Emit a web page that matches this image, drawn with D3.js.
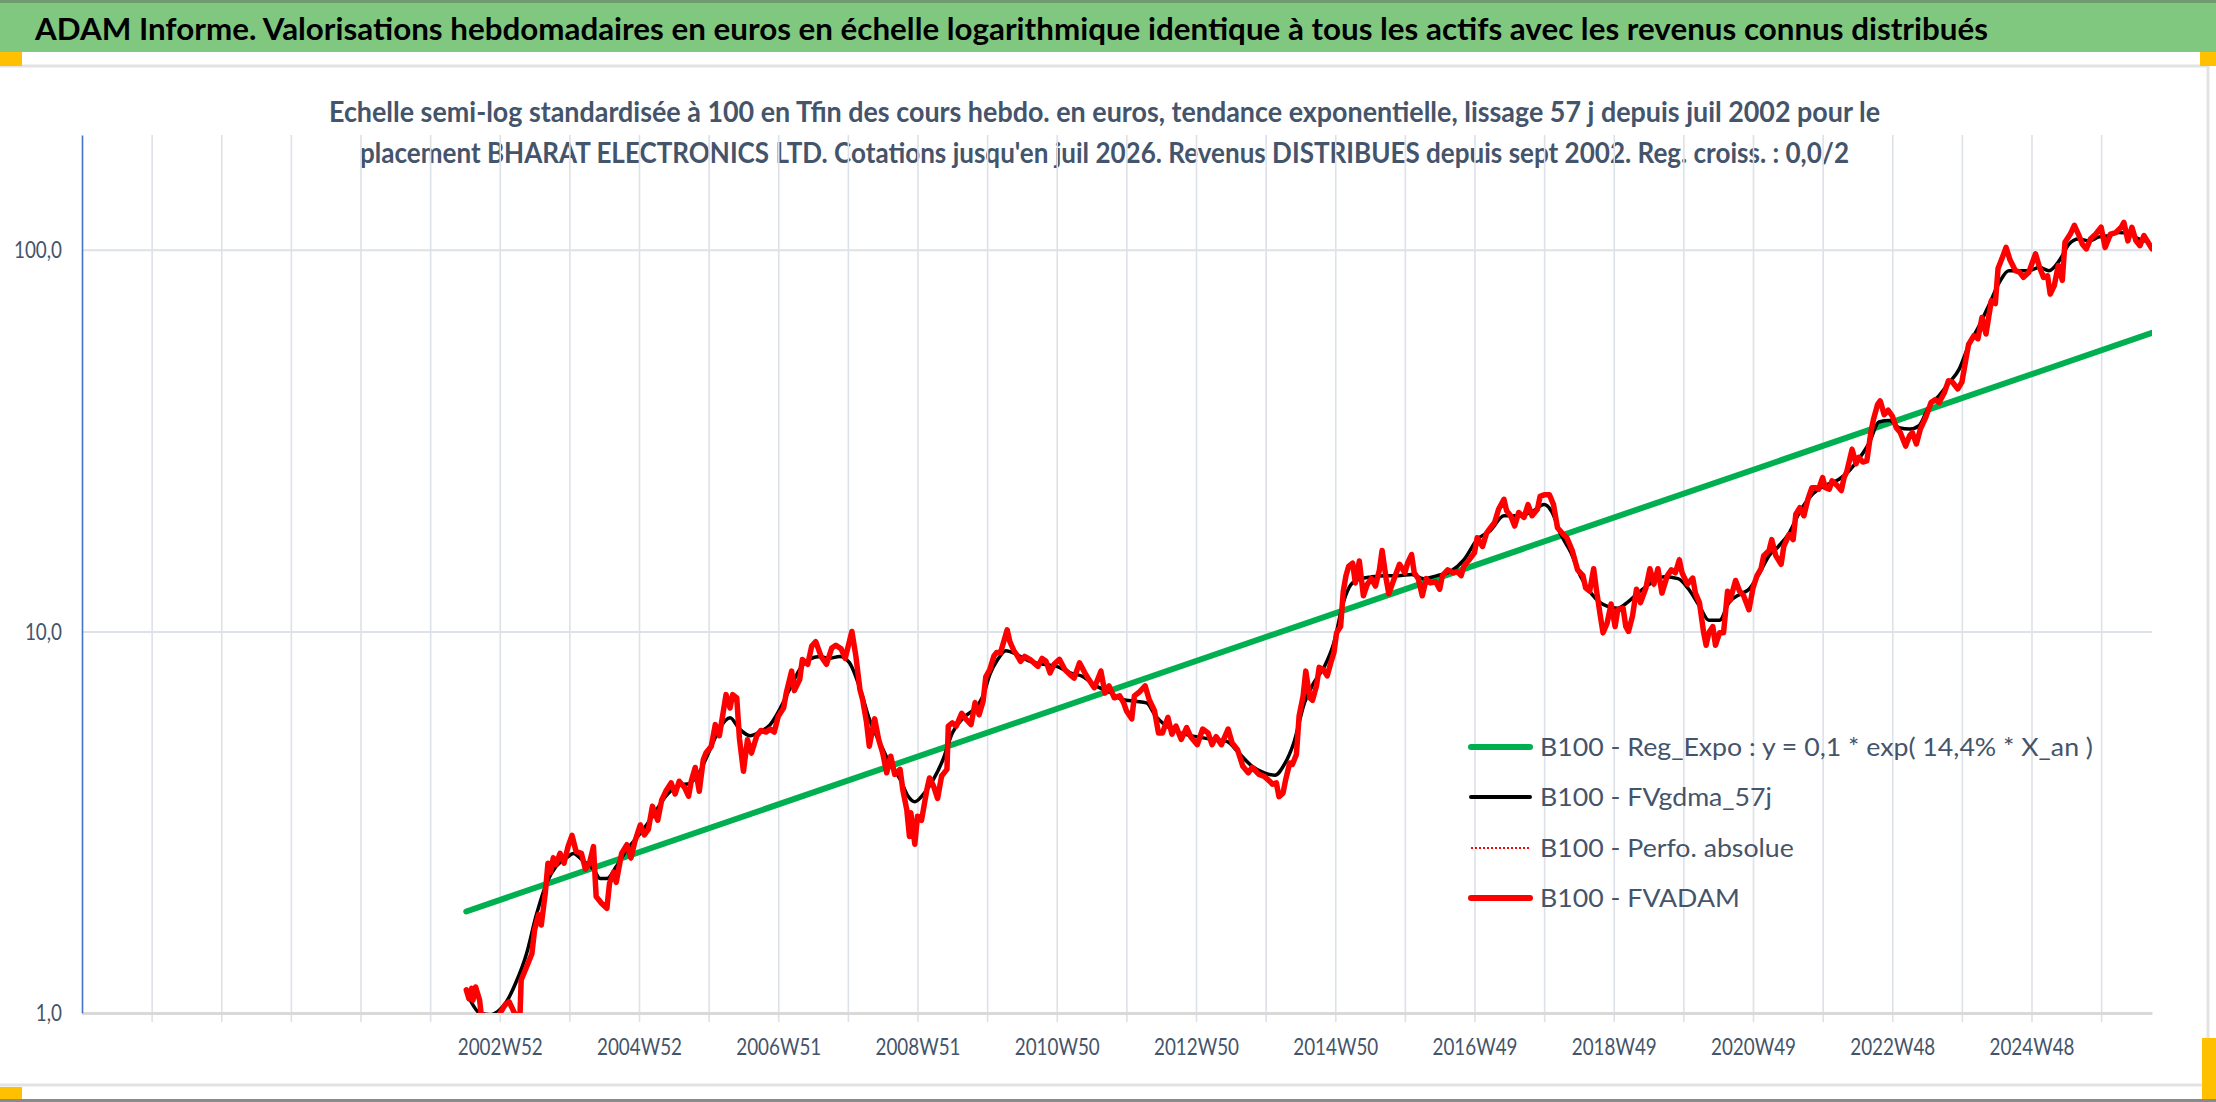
<!DOCTYPE html>
<html lang="fr">
<head>
<meta charset="utf-8">
<title>ADAM Informe - BHARAT ELECTRONICS LTD</title>
<script src="https://cdn.jsdelivr.net/npm/d3@7"></script>
<style>
  body { margin: 0; background: #fff; }
  svg text { font-family: Lato, "Open Sans", sans-serif; }
</style>
</head>
<body>
<div id="chart"></div>
<script>
// Values.
// x = week index on the category axis (one gridline every 52 weeks), y = B100 base value
const tickLabels = ["2002W52", "2004W52", "2006W51", "2008W51", "2010W50", "2012W50",
    "2014W50", "2016W49", "2018W49", "2020W49", "2022W48", "2024W48"];
const tickWeeks = [312, 416, 520, 624, 728, 832, 936, 1040, 1144, 1248, 1352, 1456];
const weekCount = 1546;
const yTicks = [1, 10, 100];

const legendLabels = [
    "B100 - Reg_Expo : y = 0,1 * exp( 14,4% *  X_an )",
    "B100 - FVgdma_57j",
    "B100 - Perfo. absolue",
    "B100 - FVADAM"
];

// exponential trend: straight on the log scale, start and end values
const regExpo = [[287, 1.845], [1546, 60.6]];

// smoothed 57-day line
const fvgdma57 = [
    [290,1.08],[297,1.0],[305,0.99],[312,1.02],[317,1.07],[324,1.20],[332,1.43],[339,1.79],[347,2.19],
    [354,2.42],[362,2.55],[367,2.62],[374,2.51],[382,2.38],[387,2.25],[392,2.25],[399,2.42],[407,2.68],
    [417,2.96],[426,3.27],[436,3.70],[446,3.95],[454,4.0],[461,4.27],[469,4.9],[476,5.55],[484,5.94],
    [491,5.55],[499,5.33],[506,5.45],[514,5.7],[521,6.24],[528,7.0],[536,7.95],[543,8.44],[551,8.6],
    [558,8.5],[566,8.6],[573,8.3],[581,7.1],[588,5.9],[596,5.1],[603,4.53],[611,4.1],[617,3.7],
    [622,3.58],[628,3.73],[636,4.1],[643,4.61],[650,5.42],[658,5.93],[665,6.2],[673,6.78],[678,7.7],
    [684,8.45],[690,8.9],[698,8.7],[708,8.35],[718,8.2],[728,8.1],[738,7.79],[748,7.6],[757,7.2],
    [767,6.95],[777,6.63],[787,6.56],[795,6.5],[802,5.99],[810,5.65],[820,5.42],[832,5.3],[845,5.21],
    [855,5.15],[864,4.8],[874,4.43],[883,4.26],[891,4.2],[898,4.48],[905,5.1],[913,6.5],[920,7.33],
    [928,8.1],[935,9.34],[942,11.9],[948,13.3],[955,13.75],[963,13.9],[973,14.0],[983,14.0],[993,14.1],
    [1002,13.75],[1012,14.0],[1022,14.35],[1032,15.4],[1042,17.4],[1052,18.4],[1062,20.1],[1072,20.1],
    [1082,20.5],[1092,21.5],[1098,20.5],[1104,18.1],[1112,16.1],[1119,14.0],[1127,12.6],[1134,11.9],
    [1139,11.65],[1147,11.5],[1154,11.9],[1162,12.6],[1172,13.4],[1182,13.9],[1192,13.75],[1200,12.9],
    [1208,11.65],[1215,10.7],[1223,10.7],[1230,11.9],[1238,12.5],[1245,12.9],[1253,14.25],[1260,15.8],
    [1267,16.7],[1275,18.1],[1282,20.3],[1290,22.4],[1297,23.6],[1305,24.4],[1312,25.0],[1320,26.4],
    [1327,28.3],[1335,31.3],[1342,35.4],[1350,35.7],[1357,34.2],[1365,33.9],[1372,34.6],[1379,38.6],
    [1387,41.5],[1394,44.6],[1402,48.7],[1409,56.0],[1417,63.3],[1424,71.4],[1432,82.2],[1439,88.2],
    [1447,88.2],[1454,88.2],[1462,90.0],[1469,88.2],[1477,94],[1484,103.5],[1491,106.8],[1499,105.6],
    [1506,108],[1514,109],[1521,111],[1529,110],[1536,106.8],[1544,104.7]
];

// weekly FVADAM valuation
const fvadam = [
    [287,1.15],[289,1.09],[291,1.16],[292,1.08],[294,1.17],[297,1.08],[298,1.00],[303,0.96],[310,0.97],
    [316,1.05],[319,1.07],[323,1.00],[327,0.96],[328,1.22],[332,1.32],[336,1.43],[338,1.65],[341,1.81],
    [343,1.70],[346,2.06],[348,2.47],[350,2.34],[352,2.55],[354,2.45],[357,2.62],[360,2.47],[363,2.73],
    [366,2.92],[369,2.65],[373,2.62],[376,2.38],[379,2.47],[382,2.73],[384,2.02],[388,1.94],[392,1.88],
    [394,2.19],[397,2.34],[399,2.20],[403,2.62],[407,2.76],[410,2.55],[413,2.82],[417,3.11],[420,2.93],
    [423,3.03],[426,3.48],[430,3.20],[433,3.62],[436,3.81],[440,4.01],[443,3.75],[446,4.05],[450,3.90],
    [453,3.70],[455,4.05],[458,4.40],[461,3.81],[464,4.61],[466,4.80],[470,5.00],[473,5.70],[476,5.33],
    [478,5.88],[481,6.83],[484,6.30],[486,6.83],[489,6.70],[491,5.25],[494,4.30],[497,5.20],[500,4.80],
    [504,5.33],[507,5.50],[511,5.45],[514,5.55],[517,5.45],[520,5.99],[524,6.30],[526,6.90],[530,7.87],
    [532,7.00],[536,7.48],[538,8.44],[542,8.20],[545,9.15],[548,9.40],[552,8.60],[556,8.20],[560,9.05],
    [563,9.20],[567,9.00],[570,8.50],[575,10.0],[578,8.6],[581,7.04],[583,6.63],[586,5.76],[588,5.0],
    [592,5.9],[595,5.21],[598,4.8],[601,4.26],[604,4.71],[607,4.22],[611,4.35],[613,3.85],[616,3.41],
    [618,2.9],[619,3.35],[622,2.77],[624,3.28],[627,3.2],[631,3.85],[633,4.13],[636,3.93],[639,3.65],
    [642,4.18],[646,4.35],[647,5.65],[650,5.76],[653,5.65],[657,6.1],[660,5.9],[664,5.7],[667,6.5],
    [670,6.05],[673,6.56],[675,7.6],[678,7.95],[681,8.61],[683,8.8],[686,8.8],[688,9.3],[691,10.1],
    [693,9.4],[696,8.9],[698,8.7],[701,8.35],[704,8.6],[708,8.45],[711,8.27],[714,8.1],[717,8.5],
    [720,8.35],[723,7.79],[726,8.2],[730,8.45],[734,7.95],[738,7.7],[741,7.55],[745,8.27],[749,7.79],
    [752,7.48],[756,7.12],[759,7.55],[761,7.87],[764,6.9],[767,7.2],[771,6.7],[775,6.78],[778,6.5],
    [780,6.2],[784,5.9],[786,6.78],[790,6.95],[794,7.2],[797,6.63],[801,6.2],[804,5.42],[807,5.42],
    [811,5.95],[814,5.38],[817,5.65],[821,5.21],[825,5.6],[828,5.3],[833,5.05],[837,5.55],[841,5.42],
    [844,5.05],[847,5.3],[851,5.05],[856,5.55],[859,5.1],[863,4.9],[867,4.43],[871,4.26],[874,4.4],
    [879,4.22],[883,4.17],[887,4.05],[889,3.98],[892,4.01],[894,3.69],[897,3.77],[899,4.09],[902,4.52],
    [904,4.48],[907,4.76],[909,6.0],[912,6.77],[914,7.87],[917,6.7],[919,6.6],[922,7.2],[924,8.05],
    [927,7.95],[930,7.65],[933,8.35],[935,8.8],[937,9.92],[940,10.3],[942,12.75],[944,14.0],[946,14.8],
    [949,15.1],[951,13.4],[954,15.3],[957,12.4],[960,13.3],[963,13.75],[966,13.15],[969,14.5],[971,16.3],
    [974,13.75],[976,12.55],[980,13.75],[984,15.0],[988,14.25],[990,15.1],[993,15.9],[995,14.25],
    [998,13.75],[1001,12.4],[1004,13.75],[1007,13.4],[1011,13.5],[1014,12.9],[1016,14.0],[1020,14.5],
    [1024,14.25],[1027,14.35],[1030,14.0],[1032,14.8],[1036,15.4],[1040,16.1],[1042,17.6],[1046,16.7],
    [1049,18.1],[1052,18.7],[1055,19.3],[1058,20.9],[1062,22.2],[1064,20.7],[1067,20.1],[1070,18.9],
    [1073,20.5],[1077,19.9],[1080,21.5],[1083,20.1],[1087,20.9],[1089,22.6],[1092,22.8],[1096,22.8],
    [1099,21.5],[1102,18.7],[1106,18.0],[1109,17.6],[1113,16.3],[1117,14.5],[1121,14.0],[1123,13.0],
    [1126,12.75],[1129,14.6],[1131,12.9],[1134,10.97],[1136,9.92],[1139,10.5],[1142,11.8],[1145,10.3],
    [1147,11.4],[1151,11.5],[1153,10.3],[1155,10.0],[1158,10.97],[1161,12.9],[1164,11.9],[1168,13.0],
    [1171,14.6],[1174,13.3],[1177,14.6],[1180,12.6],[1184,14.0],[1187,14.5],[1190,14.25],[1193,15.4],
    [1195,14.25],[1199,13.3],[1203,13.8],[1205,12.6],[1208,11.9],[1211,10.0],[1213,9.2],[1215,9.92],
    [1218,10.3],[1220,9.2],[1223,9.92],[1226,9.92],[1229,12.75],[1231,12.1],[1235,13.6],[1238,12.75],
    [1241,12.4],[1245,11.4],[1248,13.0],[1251,14.0],[1254,14.6],[1256,15.8],[1260,16.3],[1262,17.4],
    [1265,15.8],[1269,15.0],[1271,16.7],[1275,17.95],[1278,17.4],[1280,20.3],[1283,21.1],[1286,20.1],
    [1289,22.2],[1292,23.8],[1295,23.8],[1297,23.6],[1300,25.3],[1302,23.8],[1305,23.6],[1307,24.8],
    [1311,24.1],[1314,23.4],[1316,25.3],[1318,26.2],[1322,30.0],[1325,27.5],[1327,28.6],[1330,27.8],
    [1333,28.0],[1336,33.2],[1338,36.0],[1341,39.3],[1343,40.2],[1346,37.0],[1349,38.0],[1352,36.7],
    [1355,34.2],[1358,33.2],[1362,30.6],[1365,32.6],[1367,33.2],[1370,31.0],[1373,33.9],[1377,36.4],
    [1381,39.8],[1384,40.5],[1387,39.8],[1391,42.3],[1394,45.4],[1397,45.0],[1401,43.2],[1404,45.0],
    [1407,51.7],[1409,56.5],[1413,59.6],[1416,58.5],[1419,66.5],[1422,60.2],[1426,73.6],[1429,72.3],
    [1431,89.3],[1434,95],[1437,101.5],[1440,94],[1444,88.2],[1447,87.4],[1450,84.7],[1454,87.4],
    [1459,97.6],[1462,90.0],[1465,84.7],[1468,85.5],[1470,76.6],[1473,80.6],[1476,91.0],[1479,83.2],
    [1481,104.7],[1485,110],[1488,116],[1491,110],[1494,103.5],[1497,100.6],[1500,106.8],[1504,110],
    [1508,114.6],[1511,101.5],[1515,110],[1519,111],[1523,114.6],[1525,118],[1528,105.6],[1531,114.6],
    [1534,105.6],[1537,102.6],[1540,109],[1543,104.7],[1546,100.6]
];

// same series as FVADAM in the source sheet, drawn dotted underneath it
const perfoAbsolue = fvadam;

const width = 2216, height = 1102;
const plot = { left: 82, right: 2152, top: 135, bottom: 1013 };
const textColor = "#44546a";

const svg = d3.select("#chart")
    .append("svg")
    .attr("width", width)
    .attr("height", height);

// squeeze a text to a given width (the source uses a narrow Calibri-like face)
function fitWidth(sel, w) {
    sel.attr("textLength", w).attr("lengthAdjust", "spacingAndGlyphs");
}
function squeeze(sel, k) {
    sel.each(function () {
        const len = this.getComputedTextLength();
        d3.select(this).attr("textLength", len * k).attr("lengthAdjust", "spacingAndGlyphs");
    });
}

// ---- frame: green title band, borders, selection handles ----
svg.append("rect").attr("x", 0).attr("y", 0).attr("width", width).attr("height", 3).attr("fill", "#6f9a6f");
svg.append("rect").attr("x", 0).attr("y", 3).attr("width", width).attr("height", 49).attr("fill", "#80c880");
svg.append("line").attr("x1", 0).attr("x2", 2208).attr("y1", 66).attr("y2", 66)
    .attr("stroke", "#e3e3e3").attr("stroke-width", 3);
svg.append("line").attr("x1", 0).attr("x2", 2208).attr("y1", 1085).attr("y2", 1085)
    .attr("stroke", "#e3e3e3").attr("stroke-width", 3);
svg.append("line").attr("x1", 2208).attr("x2", 2208).attr("y1", 66).attr("y2", 1085)
    .attr("stroke", "#e3e3e3").attr("stroke-width", 3);
svg.append("rect").attr("x", 0).attr("y", 1099).attr("width", width).attr("height", 3).attr("fill", "#8a8a8a");
[[0, 52, 22, 14], [2200, 52, 16, 14], [0, 1087, 22, 12], [2202, 1038, 14, 61]].forEach(r => {
    svg.append("rect").attr("x", r[0]).attr("y", r[1]).attr("width", r[2]).attr("height", r[3])
        .attr("fill", "#ffc000");
});

svg.append("text")
    .attr("x", 35).attr("y", 40)
    .style("font-size", "30px").style("font-weight", "bold").style("fill", "#000")
    .text("ADAM Informe. Valorisations hebdomadaires en euros en échelle logarithmique identique à tous les actifs avec les revenus connus distribués")
    .call(fitWidth, 1953);

svg.append("text")
    .attr("x", 1104.5).attr("y", 122).attr("text-anchor", "middle")
    .style("font-size", "28px").style("font-weight", "bold").style("fill", textColor)
    .text("Echelle semi-log standardisée à 100 en Tfin des cours hebdo. en euros, tendance exponentielle, lissage 57 j depuis juil 2002 pour le")
    .call(fitWidth, 1551);

svg.append("text")
    .attr("x", 1104.5).attr("y", 163).attr("text-anchor", "middle")
    .style("font-size", "28px").style("font-weight", "bold").style("fill", textColor)
    .text("placement BHARAT ELECTRONICS LTD. Cotations jusqu'en juil 2026. Revenus DISTRIBUES depuis sept 2002. Reg. croiss. : 0,0/2")
    .call(fitWidth, 1489);

// ---- scales ----
const x = d3.scaleLinear()
    .domain([0, weekCount])
    .range([plot.left, plot.right]);

const y = d3.scaleLog()
    .domain([1, 200])
    .range([plot.bottom, plot.top]);

const fr = d3.formatLocale({ decimal: ",", thousands: " ", grouping: [3], currency: ["", " €"] });
const fmt = fr.format(".1f");

// vertical gridlines every 52 weeks, running a little below the axis as ticks
const gridWeeks = d3.range(52, weekCount, 52);
svg.append("g")
    .attr("transform", `translate(0, ${plot.bottom + 9})`)
    .call(d3.axisBottom(x).tickValues(gridWeeks).tickSize(-(plot.bottom + 9 - plot.top)).tickFormat(""))
    .call(g => g.select(".domain").remove())
    .call(g => g.selectAll(".tick line").attr("stroke", "#dde1e8").attr("stroke-width", 1.6));

// horizontal gridlines
svg.append("g")
    .attr("transform", `translate(${plot.left}, 0)`)
    .call(d3.axisLeft(y).tickValues(yTicks.slice(1)).tickSize(-(plot.right - plot.left)).tickFormat(""))
    .call(g => g.select(".domain").remove())
    .call(g => g.selectAll(".tick line").attr("stroke", "#dde1e8").attr("stroke-width", 2));

// bottom axis with week labels
svg.append("g")
    .attr("transform", `translate(0, ${plot.bottom})`)
    .call(d3.axisBottom(x).tickValues(tickWeeks).tickSize(0).tickPadding(26)
        .tickFormat((d, i) => tickLabels[i]))
    .call(g => g.select(".domain").attr("stroke", "#d9d9d9").attr("stroke-width", 3))
    .call(g => g.selectAll("text").style("font-size", "23px").style("fill", textColor)
        .style("font-family", "Lato, sans-serif"));

// left axis
const yAxis = svg.append("g")
    .attr("transform", `translate(${plot.left}, 0)`)
    .call(d3.axisLeft(y).tickValues(yTicks).tickSize(0).tickPadding(20).tickFormat(fmt))
    .call(g => g.select(".domain").attr("stroke", "#4472c4").attr("stroke-width", 1.6))
    .call(g => g.selectAll("text").style("font-size", "24px").style("fill", textColor)
        .style("font-family", "Lato, sans-serif"));

// narrow the tick labels like the source face
const xTexts = svg.selectAll("g text").filter(function () { return tickLabels.includes(this.textContent); });
const xk = 85 / xTexts.node().getComputedTextLength();
xTexts.call(squeeze, xk);
const yTexts = yAxis.selectAll("text");
const yk = 48 / yTexts.filter(function () { return this.textContent === "100,0"; }).node().getComputedTextLength();
yTexts.call(squeeze, yk);

// ---- series ----
svg.append("clipPath").attr("id", "plotClip")
    .append("rect")
    .attr("x", plot.left).attr("y", plot.top)
    .attr("width", plot.right - plot.left).attr("height", plot.bottom - plot.top);

const series = svg.append("g").attr("clip-path", "url(#plotClip)");

const line = d3.line().x(d => x(d[0])).y(d => y(d[1]));
const smooth = d3.line().x(d => x(d[0])).y(d => y(d[1])).curve(d3.curveMonotoneX);

series.append("path").datum(regExpo)
    .attr("d", line).attr("fill", "none")
    .attr("stroke", "#00b050").attr("stroke-width", 6).attr("stroke-linecap", "round");

series.append("path").datum(fvgdma57)
    .attr("d", smooth).attr("fill", "none")
    .attr("stroke", "#000").attr("stroke-width", 3.5).attr("stroke-linejoin", "round");

series.append("path").datum(perfoAbsolue)
    .attr("d", line).attr("fill", "none")
    .attr("stroke", "#ff0000").attr("stroke-width", 2).attr("stroke-dasharray", "2,2");

series.append("path").datum(fvadam)
    .attr("d", line).attr("fill", "none")
    .attr("stroke", "#ff0000").attr("stroke-width", 5.5)
    .attr("stroke-linejoin", "round").attr("stroke-linecap", "round");

// ---- legend ----
const legendStyles = [
    { color: "#00b050", w: 6, dash: null },
    { color: "#000", w: 4, dash: null },
    { color: "#ff0000", w: 2, dash: "2,2" },
    { color: "#ff0000", w: 6, dash: null }
];
const legendRows = [747, 797, 848, 898];

const legend = svg.append("g");
const items = legend.selectAll("g")
    .data(legendLabels)
    .enter()
    .append("g")
    .attr("transform", (d, i) => `translate(0, ${legendRows[i]})`);

items.append("line")
    .attr("x1", 1471).attr("x2", 1530)
    .attr("stroke", (d, i) => legendStyles[i].color)
    .attr("stroke-width", (d, i) => legendStyles[i].w)
    .attr("stroke-dasharray", (d, i) => legendStyles[i].dash)
    .attr("stroke-linecap", (d, i) => legendStyles[i].dash ? "butt" : "round");

const legendTexts = items.append("text")
    .attr("x", 1540).attr("y", 9)
    .style("font-size", "25.5px").style("fill", textColor)
    .text(d => d);
const lk = 553 / legendTexts.node().getComputedTextLength();
legendTexts.call(squeeze, lk);
</script>
</body>
</html>
